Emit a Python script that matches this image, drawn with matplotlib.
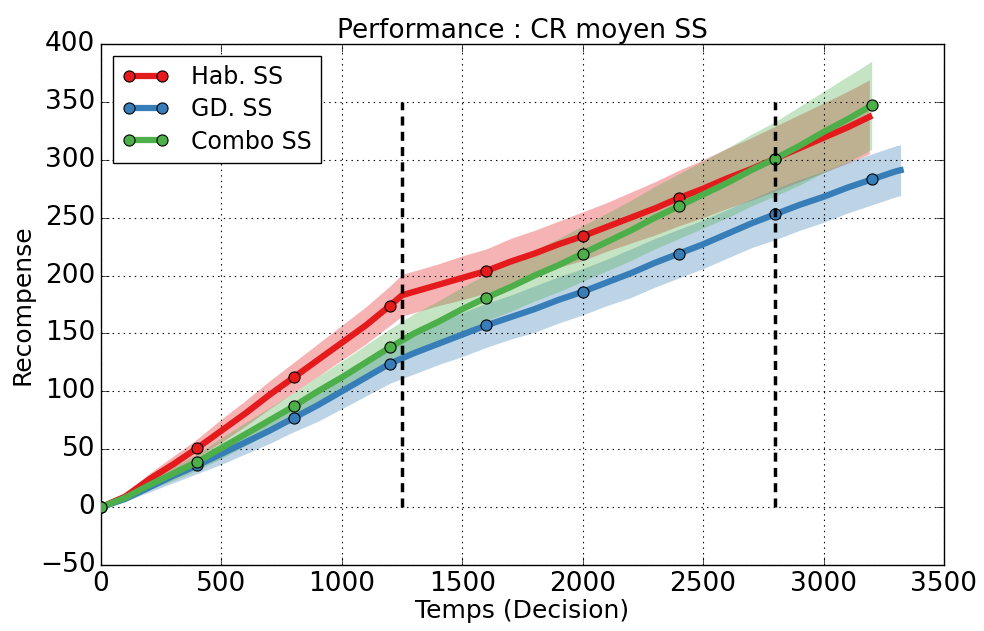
import numpy as np
import matplotlib
matplotlib.use("Agg")
import matplotlib.pyplot as plt

plt.style.use("classic")
plt.rcParams["lines.scale_dashes"] = False

# Decision steps and mean cumulative reward for each agent
hab_x = [0, 100, 200, 300, 400, 500, 600, 700, 800, 900, 1000, 1100, 1200, 1250,
         1300, 1400, 1500, 1600, 1700, 1800, 1900, 2000, 2100, 2200, 2300, 2400,
         2500, 2600, 2700, 2800, 2900, 3000, 3100, 3190]
hab_y = [0, 9, 24, 37, 51, 66, 81, 97, 112, 127, 142, 157, 174, 183,
         186, 192, 198, 204, 212, 219, 227, 234, 242, 250, 258, 267,
         275, 284, 292, 301, 310, 319, 328, 337]
hab_sd = [0, 2, 5, 7, 8, 10, 11, 12, 13, 14, 15, 16, 17, 18,
          18, 18, 19, 19, 20, 20, 20, 21, 21, 22, 23, 24,
          25, 26, 27, 28, 29, 30, 31, 32]

gd_x = [0, 100, 200, 300, 400, 500, 600, 700, 800, 900, 1000, 1100, 1200, 1300,
        1400, 1500, 1600, 1700, 1800, 1900, 2000, 2100, 2200, 2300, 2400, 2500,
        2600, 2700, 2800, 2900, 3000, 3100, 3200, 3300, 3320]
gd_y = [0, 7, 17, 27, 36, 46, 56, 66, 77, 88, 100, 112, 124, 133,
        141, 149, 157, 164, 171, 179, 186, 194, 202, 211, 219, 227,
        236, 245, 253, 261, 268, 276, 283, 290, 291]
gd_sd = [0, 2, 4, 6, 7, 9, 10, 11, 12, 14, 15, 16, 17, 18,
         18, 19, 19, 19, 20, 20, 20, 20, 21, 21, 21, 21,
         21, 21, 22, 22, 22, 22, 22, 22, 22]

combo_x = [0, 100, 200, 300, 400, 500, 600, 700, 800, 900, 1000, 1100, 1200, 1300,
           1400, 1500, 1600, 1700, 1800, 1900, 2000, 2100, 2200, 2300, 2400, 2500,
           2600, 2700, 2800, 2900, 3000, 3100, 3200]
combo_y = [0, 8, 19, 29, 39, 51, 63, 75, 87, 100, 112, 125, 138, 150,
           160, 171, 181, 190, 200, 209, 219, 229, 239, 250, 260, 270,
           280, 291, 301, 312, 324, 335, 347]
combo_sd = [0, 2, 4, 6, 7, 9, 10, 11, 12, 13, 14, 15, 16, 17,
            18, 19, 20, 21, 22, 23, 24, 25, 26, 27, 28, 29,
            30, 31, 32, 34, 35, 37, 38]

labels = ["Hab. SS", "GD. SS", "Combo SS"]
colors = ["#e41a1c", "#377eb8", "#4daf4a"]
phase_changes = [1250, 2800]
marker_step = 400

fig = plt.figure(figsize=(9.84, 6.31), dpi=100, facecolor="white")
ax = fig.add_axes([0.1026, 0.1046, 0.8567, 0.8257])

series = [(hab_x, hab_y, hab_sd), (gd_x, gd_y, gd_sd), (combo_x, combo_y, combo_sd)]
handles = []
for (x, y, sd), lab, col in zip(series, labels, colors):
    x = np.asarray(x, float)
    y = np.asarray(y, float)
    sd = np.asarray(sd, float)
    ax.fill_between(x, y - sd, y + sd, color=col, alpha=0.33, linewidth=0)
    mk = np.isclose(x % marker_step, 0)
    h, = ax.plot(x, y, color=col, linewidth=4.5, marker="o", markersize=8,
                 markerfacecolor=col, markeredgecolor="black", markeredgewidth=0.8,
                 markevery=list(np.nonzero(mk)[0]), label=lab, zorder=3)
    handles.append(h)

for xv in phase_changes:
    ax.plot([xv, xv], [0, 350], color="black", linestyle="--", linewidth=2.5,
            dashes=(6.5, 4.5), zorder=4)

ax.set_xlim(0, 3500)
ax.set_ylim(-50, 400)
ax.set_xticks(np.arange(0, 3501, 500))
ax.set_yticks(np.arange(-50, 401, 50))
ax.grid(True, color="black", linestyle=":", linewidth=0.8)
ax.tick_params(labelsize=19, direction="in", length=6, pad=4)
ax.set_xlabel("Temps (Decision)", fontsize=18, labelpad=2)
ax.set_ylabel("Recompense", fontsize=18, labelpad=4)
ax.set_title("Performance : CR moyen SS", fontsize=19, pad=4)

leg = ax.legend(handles=handles, loc="upper left", fontsize=17, numpoints=2,
                handlelength=2.0, frameon=True, fancybox=False,
                borderaxespad=0.5, handletextpad=0.9, labelspacing=0.35)
leg.get_frame().set_edgecolor("black")

fig.savefig("out.png", dpi=100, facecolor="white")
